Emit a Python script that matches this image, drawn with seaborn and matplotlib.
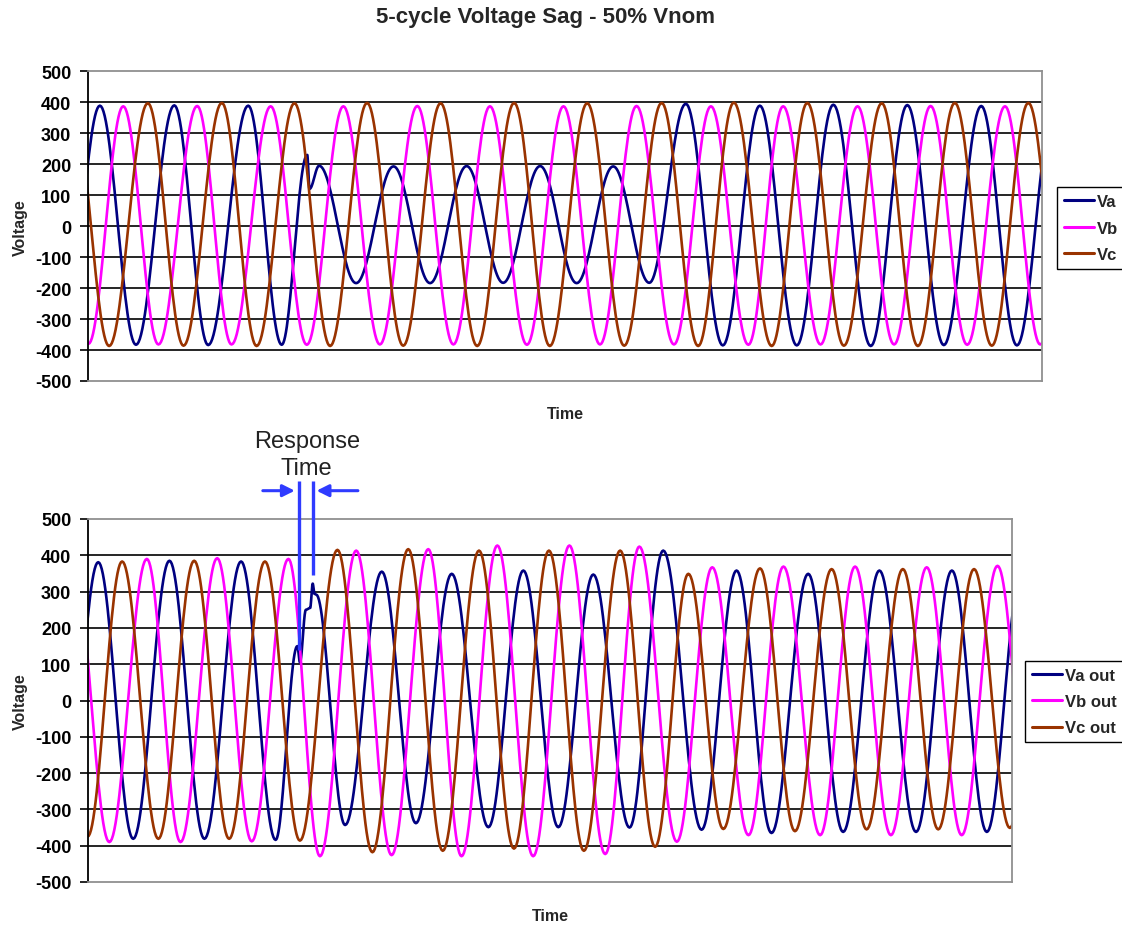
import numpy as np
import pandas as pd
import matplotlib
matplotlib.use("Agg")
import matplotlib.pyplot as plt
import seaborn as sns
from matplotlib.lines import Line2D

# ---------------- data ----------------
# time of each waveform extremum (ms) and its voltage value
TITLE = "5-cycle Voltage Sag - 50% Vnom"
Y_TICKS = [-500, -400, -300, -200, -100, 0, 100, 200, 300, 400, 500]
T_END = 216.7

# input side
va_t = [-5.6, 2.7, 10.9, 19.6, 27.3, 36.4, 44.0, 49.8, 50.3, 52.5, 60.9, 69.4, 77.7, 86.0,
        94.3, 102.7, 111.0, 119.3, 127.5, 135.8, 144.2, 152.6, 161.0, 169.3, 177.8, 186.1,
        194.4, 202.9, 211.0, 219.5]
va_v = [-383, 389, -383, 390, -384, 389, -383, 230, 120, 195, -184, 193, -184, 194,
        -183, 194, -184, 193, -183, 395, -385, 389, -385, 392, -387, 391,
        -384, 388, -385, 388]
vb_t = [-8.3, 0.1, 8.0, 16.0, 24.8, 32.6, 41.5, 49.7, 58.0, 66.3, 74.8, 83.0, 91.3, 99.7,
        108.0, 116.3, 124.6, 133.1, 141.5, 150.0, 157.9, 166.4, 174.8, 183.1, 191.4, 199.7,
        208.3, 216.3, 224.6]
vb_v = [387, -380, 387, -382, 388, -382, 387, -383, 387, -382, 388, -382, 387, -383,
        387, -382, 388, -382, 387, -383, 387, -382, 387, -382, 388, -383,
        387, -382, 387]
vc_t = [-3.5, 4.8, 13.6, 21.7, 30.4, 38.3, 46.9, 55.0, 63.4, 71.6, 80.1, 88.4, 96.8, 104.9,
        113.4, 121.8, 130.3, 138.6, 146.7, 155.3, 163.4, 171.7, 180.3, 188.5, 196.9, 205.3,
        213.6, 221.9]
vc_v = [397, -387, 397, -386, 398, -387, 397, -387, 398, -386, 397, -387, 398, -387,
        397, -386, 398, -387, 399, -387, 398, -386, 397, -387, 398, -386,
        398, -387]

# output side
vao_t = [-5.9, 2.4, 10.6, 19.1, 27.3, 35.9, 44.0, 49.1, 49.7, 51.1, 52.1, 52.7, 53.1, 53.5,
         60.3, 68.9, 76.9, 85.3, 93.9, 102.1, 110.3, 118.5, 127.0, 134.9, 143.9, 152.1,
         160.3, 168.9, 177.1, 185.6, 194.2, 202.6, 210.8, 219.0]
vao_v = [-380, 381, -381, 385, -381, 383, -384, 150, 105, 250, 255, 322, 294, 292,
         -343, 355, -338, 349, -349, 358, -349, 347, -350, 413, -356, 358,
         -365, 349, -362, 358, -362, 358, -362, 358]
vbo_t = [-3.5, 5.0, 13.8, 21.7, 30.3, 38.4, 47.0, 54.4, 62.9, 71.2, 79.8, 87.6, 96.0, 104.4,
         112.9, 121.3, 129.3, 138.1, 146.4, 154.9, 163.1, 171.7, 179.9, 188.3, 196.7, 204.9,
         213.3, 221.6]
vbo_v = [390, -390, 390, -390, 392, -388, 390, -429, 413, -426, 417, -429, 427, -429,
         427, -423, 424, -389, 367, -371, 369, -371, 369, -371, 367, -371,
         371, -371]
vco_t = [-8.4, -0.1, 8.0, 16.5, 24.9, 33.1, 41.5, 49.7, 58.5, 66.7, 75.1, 83.2, 91.7, 99.9,
         108.1, 116.3, 124.8, 133.0, 140.8, 149.0, 157.6, 165.8, 174.4, 182.6, 191.1, 199.4,
         207.8, 216.2, 224.4]
vco_v = [383, -375, 383, -381, 385, -381, 383, -386, 415, -418, 417, -414, 413, -408,
         413, -414, 413, -403, 349, -354, 364, -360, 362, -355, 362, -355,
         362, -351, 362]

TOP_NAMES = ["Va", "Vb", "Vc"]
BOT_NAMES = ["Va out", "Vb out", "Vc out"]
COLORS = ["#000080", "#FF00FF", "#993300"]

# response-time marker (ms): sag onset and compensation start
RESP_START, RESP_END = 49.5, 52.7


def trace(times, values, n=30):
    """Smooth half-wave shape joining consecutive read extrema."""
    xs, ys = [], []
    s = np.linspace(0, 1, n, endpoint=False)
    for i in range(len(times) - 1):
        xs.append(times[i] + (times[i + 1] - times[i]) * s)
        ys.append(values[i] + (values[i + 1] - values[i]) * (1 - np.cos(np.pi * s)) / 2)
    xs.append([times[-1]])
    ys.append([values[-1]])
    return np.concatenate(xs), np.concatenate(ys)


def frame(names, series):
    parts = []
    for name, (t, v) in zip(names, series):
        x, y = trace(t, v)
        parts.append(pd.DataFrame({"Time": x, "Voltage": y, "series": name}))
    return pd.concat(parts, ignore_index=True)


top_df = frame(TOP_NAMES, [(va_t, va_v), (vb_t, vb_v), (vc_t, vc_v)])
bot_df = frame(BOT_NAMES, [(vao_t, vao_v), (vbo_t, vbo_v), (vco_t, vco_v)])

# ---------------- style ----------------
sns.set_theme(style="white")
plt.rcParams["font.family"] = ["Liberation Sans", "DejaVu Sans"]

W, H = 1122, 928
fig = plt.figure(figsize=(W / 100, H / 100), dpi=100)
ax1 = fig.add_axes([88 / W, 1 - 382 / H, (1042 - 88) / W, (382 - 72.3) / H])
ax2 = fig.add_axes([88 / W, 1 - 883 / H, (1012 - 88) / W, (883 - 520) / H])


def draw(ax, df, names, legend_anchor, xlabelpad):
    sns.lineplot(data=df, x="Time", y="Voltage", hue="series", hue_order=names,
                 palette=COLORS, estimator=None, sort=False, linewidth=1.9,
                 legend=False, ax=ax)
    ax.set_xlim(0, T_END)
    ax.set_ylim(Y_TICKS[0], Y_TICKS[-1])
    ax.set_yticks(Y_TICKS)
    ax.set_yticklabels([str(v) for v in Y_TICKS], fontweight="bold", fontsize=13)
    ax.set_xticks([])
    ax.tick_params(axis="y", left=True, length=6, width=1.2, color="black",
                   pad=6, labelcolor="black")
    ax.grid(axis="y", color="black", linewidth=1.2)
    gl = ax.get_ygridlines()
    gl[0].set_visible(False)
    gl[-1].set_visible(False)
    for side in ["top", "right", "bottom"]:
        ax.spines[side].set_color("#909090")
        ax.spines[side].set_linewidth(1.3)
    ax.spines["left"].set_color("black")
    ax.spines["left"].set_linewidth(1.3)
    ax.set_xlabel("Time", fontweight="bold", fontsize=11.5, labelpad=xlabelpad)
    ax.set_ylabel("Voltage", fontweight="bold", fontsize=11.5, labelpad=5)
    handles = [Line2D([], [], color=c, lw=2.2) for c in COLORS]
    leg = fig.legend(handles, names, loc="upper left",
                     bbox_to_anchor=legend_anchor, bbox_transform=fig.transFigure,
                     borderaxespad=0, frameon=True, fancybox=False, shadow=False,
                     prop={"weight": "bold", "size": 12}, handlelength=1.8,
                     handletextpad=0.18, borderpad=0.42, labelspacing=0.68)
    leg.get_frame().set_edgecolor("black")
    leg.get_frame().set_linewidth(1.0)
    leg.get_frame().set_alpha(1)


draw(ax1, top_df, TOP_NAMES, (1056.7 / W, 1 - 188.3 / H), 18)
draw(ax2, bot_df, BOT_NAMES, (1025 / W, 1 - 661.7 / H), 19)

fig.text(545 / W, 1 - 17 / H, TITLE, ha="center", va="center",
         fontsize=16, fontweight="bold")

# ---------------- response-time annotation ----------------
BLUE = "#2F3BFF"
ax2.plot([RESP_START, RESP_START], [140, 606], color=BLUE, lw=2.4, clip_on=False,
         solid_capstyle="butt", zorder=5)
ax2.plot([RESP_END, RESP_END], [345, 606], color=BLUE, lw=2.4, clip_on=False,
         solid_capstyle="butt", zorder=5)
ax2.annotate("", xy=(RESP_START - 1.0, 578), xytext=(RESP_START - 8.5, 578),
             arrowprops=dict(arrowstyle="-|>", color=BLUE, lw=2.2, mutation_scale=18,
                             shrinkA=0, shrinkB=0), annotation_clip=False)
ax2.annotate("", xy=(RESP_END + 0.9, 578), xytext=(RESP_END + 10.6, 578),
             arrowprops=dict(arrowstyle="-|>", color=BLUE, lw=2.2, mutation_scale=18,
                             shrinkA=0, shrinkB=0), annotation_clip=False)
ax2.text((RESP_START + RESP_END) / 2 + 0.2, 678, "Response\nTime", ha="center",
         va="center", fontsize=17, linespacing=1.25, color="#222222", clip_on=False)

fig.savefig("out.png", dpi=100, facecolor="white")
